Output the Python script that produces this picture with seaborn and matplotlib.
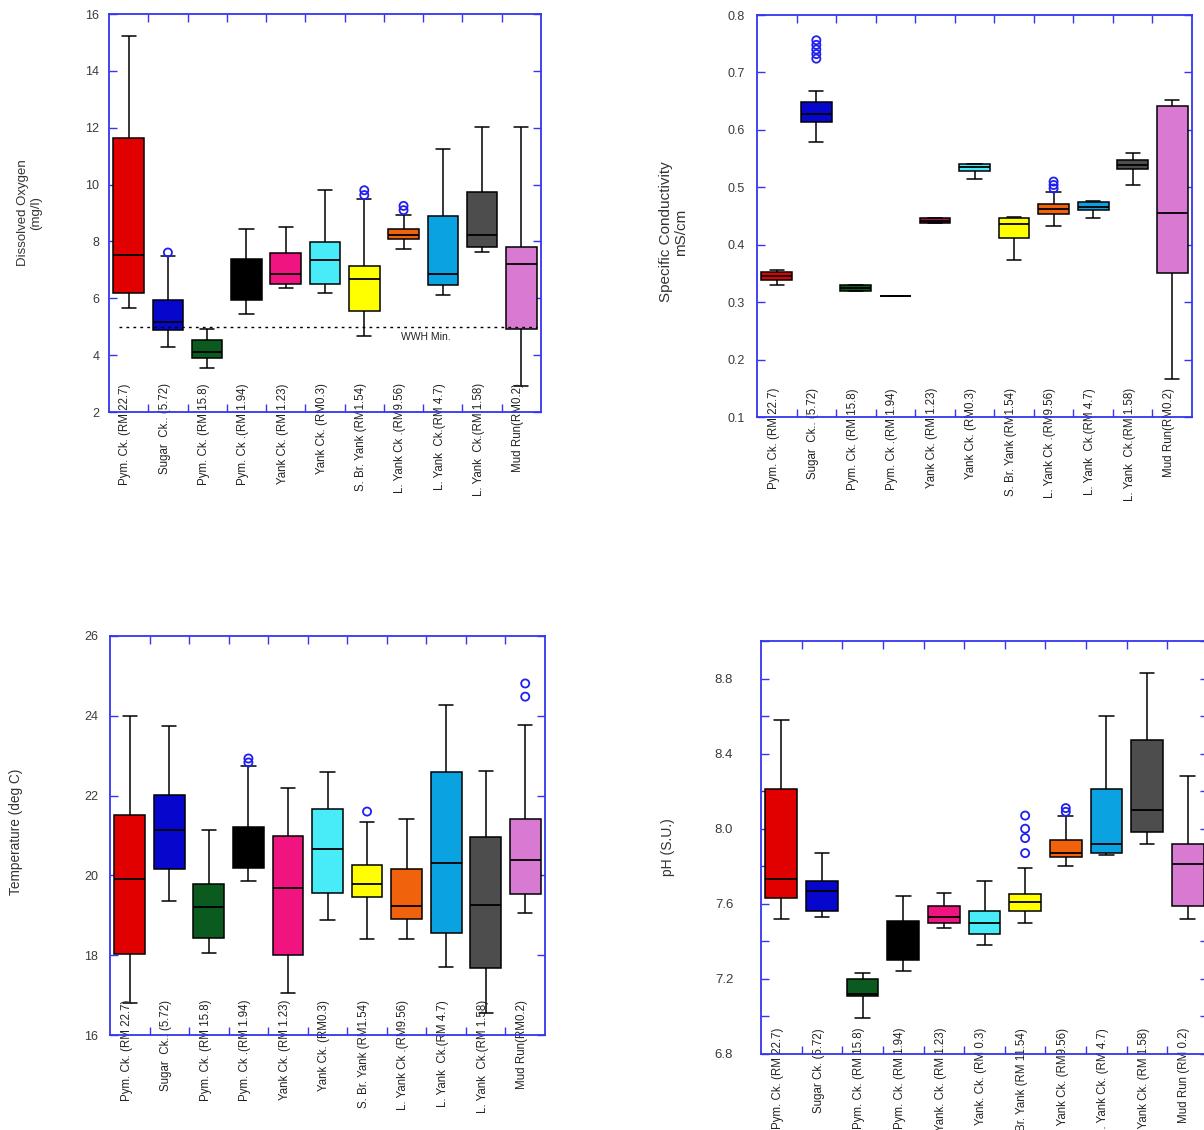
import numpy as np
import pandas as pd
import matplotlib
matplotlib.use("Agg")
import matplotlib.pyplot as plt
import matplotlib.transforms as mtransforms
from matplotlib.ticker import MultipleLocator, FixedLocator, NullFormatter
import seaborn as sns

# ---------------------------------------------------------------- stations
stations_a = ["Pym. Ck. (RM 22.7)", "Sugar  Ck.. (5.72)", "Pym. Ck. (RM 15.8)",
              "Pym. Ck .(RM 1.94)", "Yank Ck. (RM 1.23)", "Yank Ck. (RM0.3)",
              "S. Br. Yank (RM1.54)", "L. Yank Ck .(RM9.56)", "L. Yank  Ck.(RM 4.7)",
              "L. Yank  Ck.(RM 1.58)", "Mud Run(RM0.2)"]
stations_ph = ["Pym. Ck. (RM 22.7)", "Sugar Ck. (5.72)", "Pym. Ck. (RM 15.8)",
               "Pym. Ck. (RM 1.94)", "Yank. Ck. (RM 1.23)", "Yank. Ck. (RM 0.3)",
               "S. Br. Yank (RM 11.54)", "L. Yank Ck. (RM9.56)", "L. Yank Ck. (RM 4.7)",
               "L. Yank Ck. (RM 1.58)", "Mud Run (RM 0.2)"]

station_colors = ["#e00000", "#0606cc", "#0b5a20", "#000000", "#f01480", "#48ecf8",
                  "#ffff00", "#f0620c", "#0aa2e0", "#4d4d4d", "#d87ad2"]
cond_colors = list(station_colors)
cond_colors[4] = "#a3134f"

# ---------------------------------------------------------------- dissolved oxygen (mg/l)
do_low = [5.66, 4.27, 3.56, 5.46, 6.37, 6.20, 4.66, 7.75, 6.10, 7.63, 2.90]
do_q1 = [6.20, 4.88, 3.90, 5.93, 6.51, 6.51, 5.54, 8.07, 6.48, 7.82, 4.93]
do_med = [7.54, 5.16, 4.11, 6.70, 6.87, 7.33, 6.67, 8.24, 6.87, 8.21, 7.22]
do_q3 = [11.65, 5.93, 4.55, 7.37, 7.60, 7.99, 7.13, 8.44, 8.91, 9.73, 7.82]
do_high = [15.23, 7.48, 4.91, 8.42, 8.49, 9.80, 9.48, 8.92, 11.25, 12.02, 12.02]
do_out_station = [1, 6, 6, 7, 7]
do_out_value = [7.61, 9.80, 9.63, 9.25, 9.10]
wwh_min = 5.0

# ---------------------------------------------------------------- specific conductivity (mS/cm)
sc_low = [0.329, 0.578, 0.320, 0.310, 0.437, 0.514, 0.374, 0.433, 0.447, 0.504, 0.166]
sc_q1 = [0.338, 0.614, 0.320, 0.310, 0.438, 0.529, 0.412, 0.454, 0.460, 0.531, 0.350]
sc_med = [0.345, 0.627, 0.325, 0.310, 0.442, 0.536, 0.436, 0.462, 0.466, 0.539, 0.455]
sc_q3 = [0.352, 0.649, 0.329, 0.310, 0.446, 0.541, 0.447, 0.471, 0.475, 0.548, 0.641]
sc_high = [0.356, 0.667, 0.329, 0.310, 0.447, 0.541, 0.448, 0.492, 0.476, 0.559, 0.652]
sc_out_station = [1, 1, 1, 1, 1, 7, 7, 7]
sc_out_value = [0.756, 0.748, 0.740, 0.732, 0.724, 0.510, 0.504, 0.498]

# ---------------------------------------------------------------- temperature (deg C)
t_low = [16.79, 19.36, 18.06, 19.86, 17.06, 18.88, 18.41, 18.41, 17.71, 16.54, 19.05]
t_q1 = [18.02, 20.16, 18.44, 20.18, 18.00, 19.55, 19.47, 18.91, 18.55, 17.67, 19.53]
t_med = [19.91, 21.13, 19.22, 20.70, 19.69, 20.65, 19.78, 19.23, 20.30, 19.26, 20.39]
t_q3 = [21.51, 22.02, 19.78, 21.21, 20.99, 21.66, 20.27, 20.16, 22.60, 20.96, 21.41]
t_high = [24.00, 23.74, 21.15, 22.74, 22.18, 22.60, 21.33, 21.41, 24.26, 22.62, 23.77]
t_out_station = [3, 3, 6, 10, 10]
t_out_value = [22.93, 22.83, 21.60, 24.81, 24.48]

# ---------------------------------------------------------------- pH (S.U.)
ph_low = [7.52, 7.53, 6.99, 7.24, 7.47, 7.38, 7.50, 7.80, 7.86, 7.92, 7.52]
ph_q1 = [7.63, 7.56, 7.11, 7.30, 7.50, 7.44, 7.56, 7.85, 7.87, 7.98, 7.59]
ph_med = [7.73, 7.67, 7.12, 7.40, 7.53, 7.50, 7.61, 7.87, 7.92, 8.10, 7.81]
ph_q3 = [8.21, 7.72, 7.20, 7.51, 7.59, 7.56, 7.65, 7.94, 8.21, 8.47, 7.92]
ph_high = [8.58, 7.87, 7.23, 7.64, 7.66, 7.72, 7.79, 8.07, 8.60, 8.83, 8.28]
ph_out_station = [6, 6, 6, 6, 7, 7]
ph_out_value = [8.07, 8.00, 7.95, 7.87, 8.11, 8.09]

# ---------------------------------------------------------------- style
sns.set_style("ticks")
plt.rcParams["font.family"] = ["Liberation Sans", "DejaVu Sans"]
FRAME = "#3535f2"
OUTLIER = "#1f1ff0"


def summary_frame(names, low, q1, med, q3, high):
    """Long table holding the five summary values of every station."""
    rows = []
    for name, vals in zip(names, zip(low, q1, med, q3, high)):
        for v in vals:
            rows.append({"station": name, "value": v})
    return pd.DataFrame(rows)


def panel(rect, names, colors, stats, out_station, out_value, ylim,
          major, minor, ylabel, ylabel_size, ylabel_xy, tick_pad, tick_size,
          name_y, name_size=8.3):
    ax = fig.add_axes(rect)
    df = summary_frame(names, *stats)
    sns.boxplot(data=df, x="station", y="value", hue="station", order=names,
                hue_order=names, palette=colors, saturation=1, whis=(0, 100),
                width=0.78, linecolor="black", linewidth=1.1, legend=False, ax=ax,
                medianprops={"linewidth": 1.3}, capwidths=0.36)
    odf = pd.DataFrame({"pos": out_station, "value": out_value})
    sns.scatterplot(data=odf, x="pos", y="value", marker="o", s=34,
                    facecolors="none", edgecolor=OUTLIER, linewidth=1.3,
                    ax=ax, zorder=5, legend=False)

    ax.set_xlim(-0.5, len(names) - 0.5)
    ax.set_ylim(*ylim)
    ax.set_xlabel("")
    ax.set_ylabel(ylabel, fontsize=ylabel_size, color="#333333", linespacing=1.15)
    ax.yaxis.set_label_coords(*ylabel_xy)

    # y ticks on both sides, pointing inwards
    ax.yaxis.set_major_locator(MultipleLocator(major))
    if minor:
        ax.yaxis.set_minor_locator(MultipleLocator(minor))
    ax.tick_params(axis="y", which="both", direction="in", left=True, right=True,
                   length=6, width=1.0, color=FRAME, labelsize=tick_size,
                   labelcolor="#3a3a3a", pad=tick_pad)
    ax.tick_params(axis="y", which="minor", labelleft=False)

    # x: ticks at station boundaries on top and bottom, names written inside
    ax.xaxis.set_major_locator(FixedLocator([]))
    ax.xaxis.set_minor_locator(FixedLocator(np.arange(0.5, len(names) - 1, 1.0)))
    ax.xaxis.set_minor_formatter(NullFormatter())
    ax.tick_params(axis="x", which="minor", direction="in", top=True, bottom=True,
                   length=6, width=1.0, color=FRAME)
    ax.tick_params(axis="x", which="major", bottom=False, labelbottom=False)

    for sp in ax.spines.values():
        sp.set_visible(True)
        sp.set_color(FRAME)
        sp.set_linewidth(1.3)
        sp.set_zorder(6)

    trans = mtransforms.blended_transform_factory(ax.transData, ax.transAxes)
    for i, name in enumerate(names):
        ax.text(i - 0.08, name_y, name, transform=trans, rotation=90,
                rotation_mode="anchor", ha="right", va="center",
                fontsize=name_size, color="#222222", clip_on=False)
    return ax


W, H = 1204, 1130
fig = plt.figure(figsize=(W / 100, H / 100), dpi=100)
fig.patch.set_facecolor("white")


def rect(left, right, top, bottom):
    return [left / W, 1 - bottom / H, (right - left) / W, (bottom - top) / H]


ax_do = panel(rect(109, 541, 14, 412), stations_a, station_colors,
              (do_low, do_q1, do_med, do_q3, do_high), do_out_station, do_out_value,
              (2, 16), 2, None, "Dissolved Oxygen\n(mg/l)", 9.5, (-0.155, 0.5),
              7, 9, 0.072)
ax_do.hlines(wwh_min, -0.25, 10.4, colors="black", linestyles=(0, (2, 3)),
             linewidth=1.0, zorder=4)
ax_do.text(7.57, 4.64, "WWH Min.", fontsize=7.5, ha="center", va="center",
           color="#222222")

panel(rect(757, 1192, 15, 417), stations_a, cond_colors,
      (sc_low, sc_q1, sc_med, sc_q3, sc_high), sc_out_station, sc_out_value,
      (0.1, 0.8), 0.1, None, "Specific Conductivity\nmS/cm", 11, (-0.158, 0.46),
      9, 9, 0.072)

panel(rect(110, 545, 636, 1035), stations_a, station_colors,
      (t_low, t_q1, t_med, t_q3, t_high), t_out_station, t_out_value,
      (16, 26), 2, None, "Temperature (deg C)", 9.8, (-0.2, 0.51),
      8.5, 9, 0.088)

panel(rect(761, 1208, 641, 1054), stations_ph, station_colors,
      (ph_low, ph_q1, ph_med, ph_q3, ph_high), ph_out_station, ph_out_value,
      (6.8, 9.0), 0.4, 0.2, "pH (S.U.)", 10, (-0.193, 0.5),
      20, 9.5, 0.063)

fig.savefig("out.png", dpi=100, facecolor="white")
